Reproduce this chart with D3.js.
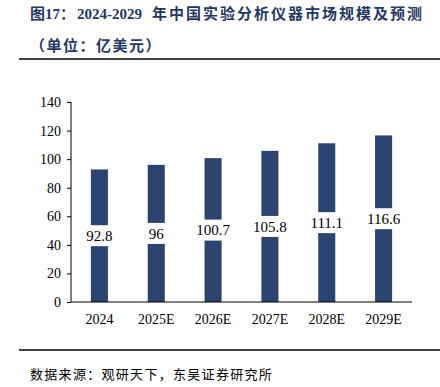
<!DOCTYPE html>
<html><head><meta charset="utf-8">
<script src="https://cdn.jsdelivr.net/npm/d3@7/dist/d3.min.js"></script>
<style>
body{margin:0;background:#fff;}
svg{display:block;}
</style></head>
<body><svg id="c" width="440" height="387"></svg>
<script>
const categories = ["2024","2025E","2026E","2027E","2028E","2029E"];
const values = [92.8, 96, 100.7, 105.8, 111.1, 116.6];
const valueLabels = ["92.8","96","100.7","105.8","111.1","116.6"];
const yTicks = [0,20,40,60,80,100,120,140];
const titleLine1 = "图17：2024-2029 年中国实验分析仪器市场规模及预测";
const titleLine2 = "（单位：亿美元）";
const sourceText = "数据来源：观研天下，东吴证券研究所";

const svg = d3.select("#c");
const serif = "'Liberation Serif','Times New Roman',serif";
const cjk = "'Noto Sans CJK SC',sans-serif";
const navy = "#1f3864";
const barColor = "#2b4470";

// Title
const t1 = svg.append("text").attr("x",30).attr("y",19)
  .attr("fill",navy).attr("font-weight","bold").attr("font-size",15);
t1.append("tspan").attr("font-family",cjk).text("图");
t1.append("tspan").attr("font-family",serif).text("17");
t1.append("tspan").attr("font-family",cjk).text("：");
t1.append("tspan").attr("font-family",serif).attr("dx",2).text("2024-2029");
t1.append("tspan").attr("font-family",cjk).attr("dx",10).attr("letter-spacing",2).text("年中国实验分析仪器市场规模及预测");
svg.append("text").attr("x",30).attr("y",51).attr("fill",navy).attr("font-weight","bold")
  .attr("font-size",15).attr("font-family",cjk).attr("letter-spacing",1.5).text(titleLine2);

svg.append("line").attr("x1",19).attr("x2",440).attr("y1",59).attr("y2",59).attr("stroke","#000").attr("stroke-width",1.5);
svg.append("line").attr("x1",19).attr("x2",440).attr("y1",350).attr("y2",350).attr("stroke","#000").attr("stroke-width",1.5);

svg.append("text").attr("x",30).attr("y",379).attr("font-size",13).attr("font-family",cjk)
  .attr("fill","#000").attr("letter-spacing",1.3).text(sourceText);

// Chart
const x = d3.scaleBand().domain(categories).range([71,412]).paddingInner(0.7).paddingOuter(0.35);
const y = d3.scaleLinear().domain([0,140]).range([302,102]);

const g = svg.append("g");
g.selectAll("rect.bar").data(values).join("rect").attr("class","bar")
  .attr("x",(d,i)=>x(categories[i])).attr("width",x.bandwidth())
  .attr("y",d=>y(d)).attr("height",d=>y(0)-y(d)).attr("fill",barColor);

// Value labels with white background
const lab = g.selectAll("g.lab").data(values).join("g").attr("class","lab")
  .attr("transform",(d,i)=>`translate(${x(categories[i])+x.bandwidth()/2},${(y(d)+y(0))/2})`);
lab.append("text").attr("text-anchor","middle").attr("dy","0.35em")
  .attr("font-family",serif).attr("font-size",15).attr("fill","#000")
  .text((d,i)=>valueLabels[i]);
lab.each(function(){
  const gg = d3.select(this);
  const bb = gg.select("text").node().getBBox();
  gg.insert("rect","text").attr("x",bb.x-2).attr("width",bb.width+4)
    .attr("y",-10.5).attr("height",21).attr("fill","#fff");
});

// Axes
const yAxis = d3.axisLeft(y).tickValues(yTicks).tickSize(4).tickPadding(6);
const ya = svg.append("g").attr("transform","translate(71,0)").call(yAxis);
ya.select(".domain").attr("d","M0,102V302").attr("stroke","#000");
ya.selectAll("text").attr("font-family",serif).attr("font-size",14).attr("fill","#000");
ya.selectAll("line").attr("stroke","#000");

const xAxis = d3.axisBottom(x).tickSize(0).tickPadding(12);
const xa = svg.append("g").attr("transform","translate(0,302)").call(xAxis);
xa.select(".domain").attr("d","M71,0H412").attr("stroke","#000");
xa.selectAll("text").attr("font-family",serif).attr("font-size",14).attr("fill","#000");
</script></body></html>
